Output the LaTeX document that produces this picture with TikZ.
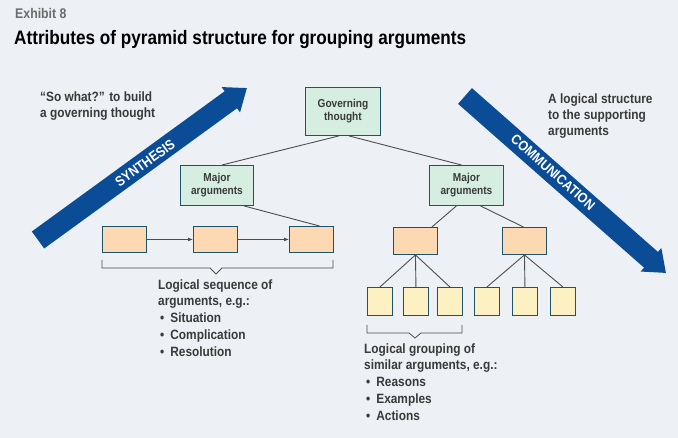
\documentclass[tikz,border=0pt]{standalone}
\usepackage{fontspec}
\setmainfont{Liberation Sans}[FakeStretch=0.88]
\usetikzlibrary{arrows.meta}
\definecolor{bg}{HTML}{EDF0F4}
\definecolor{txt}{HTML}{3A3A3A}
\definecolor{bd}{HTML}{1F5468}
\definecolor{gfill}{HTML}{D6EDE2}
\definecolor{ofill}{HTML}{FCD9B2}
\definecolor{yfill}{HTML}{FDF0C2}
\definecolor{arr}{HTML}{0B4C97}
\begin{document}
\begin{tikzpicture}[x=1pt,y=-1pt,font=\bfseries\color{txt},
  box/.style={draw=bd,line width=0.9pt,inner sep=0pt,anchor=north west},
  gbox/.style={box,fill=gfill,align=center,font=\bfseries\fontsize{11.5}{13}\selectfont\color{txt}},
  obox/.style={box,fill=ofill,minimum width=44pt,minimum height=26pt},
  ybox/.style={box,fill=yfill,minimum width=25pt,minimum height=28pt},
  ln/.style={draw=txt!90,line width=0.9pt},
  big/.style={line width=21pt,draw=arr,-{Triangle[length=20pt,width=30pt]}},
  lab/.style={anchor=north west,align=left,font=\bfseries\fontsize{13.5}{16}\selectfont\color{txt}}]
\fill[bg] (0,0) rectangle (678,438);
\useasboundingbox (0,0) rectangle (678,438);
\node[anchor=north west,inner sep=0pt,text=gray!85!black,font=\bfseries\fontsize{14}{15}\selectfont] (ex) at (15,8) {Exhibit 8};
\node[anchor=north west,inner sep=0pt,font=\bfseries\fontsize{19.5}{21}\selectfont] (title) at (14,30) {Attributes of pyramid structure for grouping arguments};
% big arrows
\coordinate (s1) at (38,240); \coordinate (s2) at (247,88);
\draw[big] (s1) -- (s2);
\node[rotate=36,text=white,font=\bfseries\fontsize{14}{15}\selectfont] (syn) at (145,163) {SYNTHESIS};
\coordinate (c1) at (465,96); \coordinate (c2) at (666,273);
\draw[big] (c1) -- (c2);
\node[rotate=-41.5,text=white,font=\bfseries\fontsize{14}{15}\selectfont] (com) at (553,172) {COMMUNICATION};
\node[lab,inner sep=0pt] (l1) at (40,92) {“So what?” to build\\a governing thought};
\node[lab,inner sep=0pt] (l2) at (548,94) {A logical structure\\to the supporting\\arguments};
% nodes
\node[gbox,minimum width=75pt,minimum height=48pt] (gov) at (305,87) {Governing\\thought};
\node[gbox,minimum width=73pt,minimum height=40pt] (ma) at (180,165) {Major\\arguments};
\node[gbox,minimum width=74pt,minimum height=40pt] (mb) at (429,165) {Major\\arguments};
\node[obox] (o1) at (102,226) {};
\node[obox] (o2) at (193,226) {};
\node[obox] (o3) at (289,226) {};
\node[obox,minimum height=27pt] (o4) at (393,227) {};
\node[obox,minimum height=27pt] (o5) at (502,227) {};
\node[ybox] (y1) at (367,287) {};
\node[ybox] (y2) at (403,287) {};
\node[ybox] (y3) at (437,287) {};
\node[ybox] (y4) at (474,287) {};
\node[ybox] (y5) at (512,287) {};
\node[ybox] (y6) at (550,287) {};
% connectors
\draw[ln] ([xshift=-4pt]gov.south) -- ([xshift=5pt]ma.north);
\draw[ln] ([xshift=6pt]gov.south) -- ([xshift=-5pt]mb.north);
\draw[ln] ([xshift=-10pt]ma.south east) -- ([xshift=8pt]o3.north);
\draw[ln] ([xshift=-10pt]mb.south) -- ([xshift=-6pt]o4.north east);
\draw[ln] ([xshift=14pt]mb.south) -- ([xshift=-1pt]o5.north);
\draw[ln,-{Latex[length=5pt,width=4pt]}] (o1) -- (o2);
\draw[ln,-{Latex[length=5pt,width=4pt]}] (o2) -- (o3);
\foreach \p/\c in {o4/y1,o4/y2,o4/y3,o5/y4,o5/y5,o5/y6} \draw[ln] (\p.south) -- (\c.north);
% brackets
\coordinate (b1) at (102,260); \coordinate (b2) at (216,274);
\draw[ln,line width=0.8pt] (b1) -- (102,268) -- (210,268) -- (b2) -- (222,268) -- (333,268) -- (333,260);
\coordinate (b3) at (367,325); \coordinate (b4) at (415,338);
\draw[ln,line width=0.8pt] (b3) -- (367,333) -- (409,333) -- (b4) -- (421,333) -- (462,333) -- (462,325);
\node[lab,inner sep=0pt] (t1) at (158,280) {Logical sequence of\\arguments, e.g.:\\[1pt]
  \hspace*{2pt}•\hspace{6pt}Situation\\[1pt]\hspace*{2pt}•\hspace{6pt}Complication\\[1pt]\hspace*{2pt}•\hspace{6pt}Resolution};
\node[lab,inner sep=0pt] (t2) at (364,344) {Logical grouping of\\similar arguments, e.g.:\\[1pt]
  \hspace*{2pt}•\hspace{6pt}Reasons\\[1pt]\hspace*{2pt}•\hspace{6pt}Examples\\[1pt]\hspace*{2pt}•\hspace{6pt}Actions};
\end{tikzpicture}
\end{document}
